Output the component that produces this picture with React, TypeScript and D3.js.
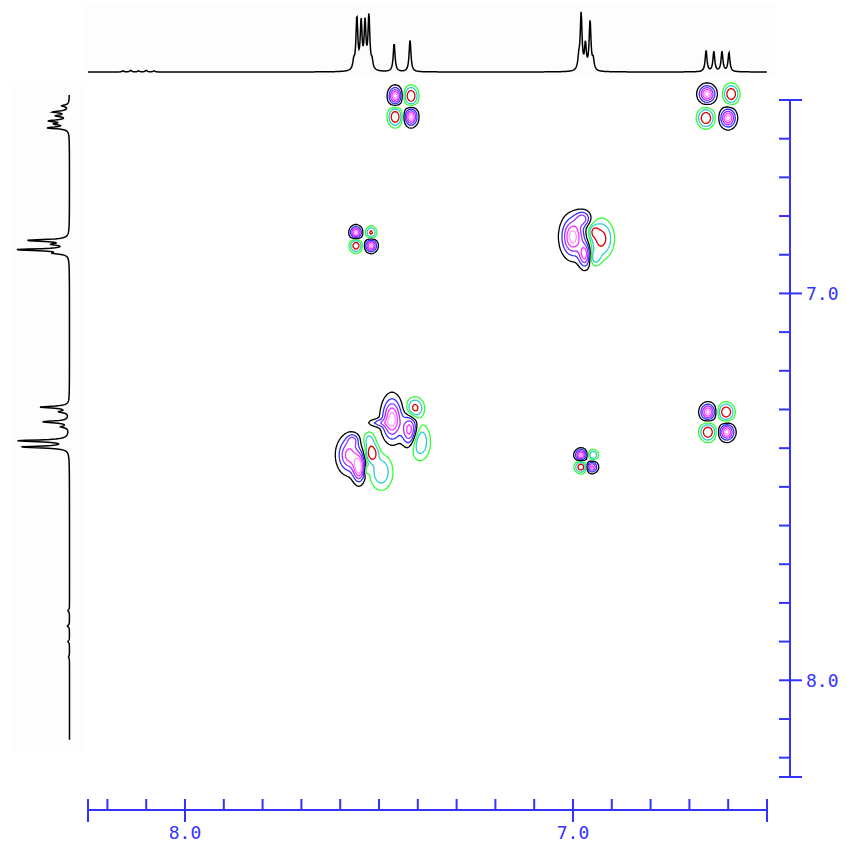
import React, { useEffect, useRef } from 'react'
import * as d3 from 'd3'

// F2 projection (top trace): ppm, relative intensity
const topPeaks: number[][] = [
  [8.16, 2], [8.14, 3], [8.12, 2], [8.10, 3], [8.08, 2],
  [7.565, 15], [7.557, 93], [7.546, 84], [7.536, 82], [7.526, 96], [7.518, 14],
  [7.461, 50], [7.420, 57],
  [6.985, 20], [6.979, 100], [6.968, 45], [6.956, 88], [6.948, 18],
  [6.657, 38], [6.637, 36], [6.616, 36], [6.598, 34],
]

// F1 projection (left trace): ppm, relative intensity
const leftPeaks: number[][] = [
  [6.515, 14], [6.531, 31], [6.541, 24], [6.554, 37], [6.562, 24], [6.572, 41],
  [6.863, 80], [6.873, 27], [6.887, 100], [6.896, 25],
  [7.294, 57], [7.306, 18], [7.332, 51], [7.345, 14], [7.381, 98], [7.397, 92],
  [7.82, 3], [7.86, 4], [7.90, 3], [7.94, 2],
]

// cross / diagonal peaks: f2 ppm, f1 ppm, amplitude, width f2, width f1 (ppm)
const crossPeaks: number[][] = [
  // 7.46/7.42 x 6.49/6.54
  [7.461, 6.487, 1, 0.010, 0.014], [7.420, 6.487, -1, 0.010, 0.014],
  [7.461, 6.541, -1, 0.010, 0.014], [7.420, 6.541, 1, 0.010, 0.014],
  // 6.66/6.60 x 6.48/6.54
  [6.657, 6.482, 1, 0.013, 0.014], [6.595, 6.482, -1, 0.011, 0.014],
  [6.660, 6.544, -1, 0.012, 0.014], [6.603, 6.544, 1, 0.012, 0.015],
  // 7.56/7.52 x 6.84/6.87
  [7.562, 6.840, 1, 0.009, 0.010], [7.523, 6.840, -0.7, 0.008, 0.009],
  [7.562, 6.874, -0.9, 0.009, 0.010], [7.523, 6.874, 1, 0.009, 0.010],
  // diagonal 6.97
  [7.003, 6.851, 1, 0.018, 0.031], [6.972, 6.897, 0.8, 0.010, 0.021],
  [6.977, 6.804, 0.55, 0.013, 0.013], [6.930, 6.856, -0.75, 0.018, 0.028],
  [6.948, 6.838, -0.5, 0.008, 0.010], [6.946, 6.905, -0.4, 0.010, 0.013],
  // diagonal 7.44
  [7.469, 7.322, 1, 0.0155, 0.0335], [7.423, 7.351, 0.85, 0.013, 0.026],
  [7.503, 7.332, 0.35, 0.018, 0.0065],
  [7.410, 7.294, -0.75, 0.013, 0.0155], [7.397, 7.381, -0.55, 0.0155, 0.028],
  // diagonal 7.55
  [7.580, 7.415, 0.8, 0.018, 0.028], [7.554, 7.448, 1, 0.010, 0.023],
  [7.570, 7.376, 0.4, 0.010, 0.010], [7.521, 7.410, -0.9, 0.010, 0.015],
  [7.497, 7.459, -0.5, 0.018, 0.028], [7.536, 7.454, -0.35, 0.005, 0.008],
  [7.528, 7.376, -0.4, 0.010, 0.013],
  // 6.98/6.95 x 7.41/7.45
  [6.982, 7.415, 1, 0.009, 0.009], [6.951, 7.415, -0.6, 0.008, 0.008],
  [6.982, 7.446, -0.9, 0.009, 0.009], [6.954, 7.446, 0.8, 0.009, 0.009],
  // 6.66/6.61 x 7.30/7.36
  [6.655, 7.304, 1, 0.0115, 0.013], [6.608, 7.304, -1, 0.0115, 0.013],
  [6.655, 7.356, -1, 0.0115, 0.013], [6.606, 7.356, 1, 0.0115, 0.013],
]

const majorTicks = [8.0, 7.0]
const tickLabels = ['8.0', '7.0']

const posLevels = [0.12, 0.3, 0.5, 0.7, 0.88]
const posColors = ['#000000', '#3333ff', '#9933ff', '#ff33ff', '#ff99ff']
const negLevels = [0.12, 0.3, 0.6]
const negColors = ['#33ff33', '#33cccc', '#dd0000']

const axisColor = '#3333ff'

function lorentz(peaks: number[][], ppm: number, g: number) {
  let s = 0
  for (const p of peaks) {
    const d = (ppm - p[0]) / g
    s += p[1] / (1 + d * d)
  }
  return s
}

export default function App() {
  const ref = useRef<SVGSVGElement>(null)

  useEffect(() => {
    const svg = d3.select(ref.current)
    svg.selectAll('*').remove()

    const x = d3.scaleLinear().domain([8.25, 6.5]).range([88, 767])
    const y = d3.scaleLinear().domain([6.5, 8.25]).range([100, 777])
    const pxPerPpm = Math.abs(x(7) - x(8))

    // faint panels behind the projections
    svg.append('rect').attr('x', 84).attr('y', 4).attr('width', 691).attr('height', 73).attr('fill', '#fdfdfd')
    svg.append('rect').attr('x', 10).attr('y', 86).attr('width', 75).attr('height', 667).attr('fill', '#fdfdfd')

    // top projection
    const topH = d3.scaleLinear().domain([0, 100]).range([72, 16])
    const topPts: [number, number][] = d3.range(8.25, 6.5, -0.0012).map(p => [x(p), topH(lorentz(topPeaks, p, 0.0028))])
    svg.append('path')
      .attr('d', d3.line()(topPts))
      .attr('fill', 'none').attr('stroke', '#000').attr('stroke-width', 1.5)

    // left projection
    const leftW = d3.scaleLinear().domain([0, 100]).range([69.5, 18])
    const leftPts: [number, number][] = d3.range(6.487, 8.155, 0.0012).map(p => [leftW(lorentz(leftPeaks, p, 0.0028)), y(p)])
    svg.append('path')
      .attr('d', d3.line()(leftPts))
      .attr('fill', 'none').attr('stroke', '#000').attr('stroke-width', 1.5)

    // contour grid
    const cell = 2, gx0 = 80, gy0 = 80, nx = 350, ny = 355
    const vals = new Float64Array(nx * ny)
    for (const pk of crossPeaks) {
      const cx = x(pk[0]), cy = y(pk[1])
      const sx = pk[3] * pxPerPpm, sy = pk[4] * pxPerPpm
      const i0 = Math.max(0, Math.floor((cx - 5 * sx - gx0) / cell))
      const i1 = Math.min(nx - 1, Math.ceil((cx + 5 * sx - gx0) / cell))
      const j0 = Math.max(0, Math.floor((cy - 5 * sy - gy0) / cell))
      const j1 = Math.min(ny - 1, Math.ceil((cy + 5 * sy - gy0) / cell))
      for (let j = j0; j <= j1; j++) {
        const dy = (gy0 + j * cell - cy) / sy
        for (let i = i0; i <= i1; i++) {
          const dx = (gx0 + i * cell - cx) / sx
          vals[j * nx + i] += pk[2] * Math.exp(-0.5 * (dx * dx + dy * dy))
        }
      }
    }
    const neg = vals.map(v => -v)
    const path = d3.geoPath(d3.geoIdentity().scale(cell).translate([gx0, gy0]) as any)
    const g = svg.append('g').attr('fill', 'none').attr('stroke-width', 1.3)

    g.selectAll('path.neg')
      .data(d3.contours().size([nx, ny]).thresholds(negLevels)(Array.from(neg)))
      .enter().append('path')
      .attr('class', 'neg')
      .attr('d', d => path(d as any))
      .attr('stroke', (d, i) => negColors[i])

    g.selectAll('path.pos')
      .data(d3.contours().size([nx, ny]).thresholds(posLevels)(Array.from(vals)))
      .enter().append('path')
      .attr('class', 'pos')
      .attr('d', d => path(d as any))
      .attr('stroke', (d, i) => posColors[i])

    // axes
    const ax = svg.append('g').attr('stroke', axisColor).attr('stroke-width', 2)
    const minor = d3.range(66, 83).map(v => v / 10)

    // right (F1) axis
    const rx = 790
    ax.append('line').attr('x1', rx).attr('x2', rx).attr('y1', y(6.5)).attr('y2', y(8.25))
    ax.selectAll('line.rt').data(minor).enter().append('line')
      .attr('x1', rx - 11).attr('x2', d => majorTicks.some(m => Math.abs(m - d) < 1e-6) ? rx + 12 : rx)
      .attr('y1', d => y(d)).attr('y2', d => y(d))
    ax.selectAll('line.rend').data([6.5, 8.25]).enter().append('line')
      .attr('x1', rx - 11).attr('x2', rx + 12).attr('y1', d => y(d)).attr('y2', d => y(d))

    // bottom (F2) axis
    const by = 810
    ax.append('line').attr('x1', x(8.25)).attr('x2', x(6.5)).attr('y1', by).attr('y2', by)
    ax.selectAll('line.bt').data(minor).enter().append('line')
      .attr('y1', by - 11).attr('y2', d => majorTicks.some(m => Math.abs(m - d) < 1e-6) ? by + 12 : by)
      .attr('x1', d => x(d)).attr('x2', d => x(d))
    ax.selectAll('line.bend').data([8.25, 6.5]).enter().append('line')
      .attr('y1', by - 11).attr('y2', by + 12).attr('x1', d => x(d)).attr('x2', d => x(d))

    const txt = svg.append('g').attr('fill', axisColor)
      .attr('font-family', '"DejaVu Sans Mono", monospace').attr('font-size', 18)
    txt.selectAll('text.b').data(majorTicks).enter().append('text')
      .attr('x', d => x(d)).attr('y', 839).attr('text-anchor', 'middle')
      .text((d, i) => tickLabels[i])
    txt.selectAll('text.r').data(majorTicks).enter().append('text')
      .attr('x', 806).attr('y', d => y(d) + 6.5)
      .text((d, i) => tickLabels[i])
  }, [])

  return (
    <svg ref={ref} width={847} height={846}
      style={{ position: 'absolute', left: 0, top: 0, background: '#fff' }} />
  )
}
